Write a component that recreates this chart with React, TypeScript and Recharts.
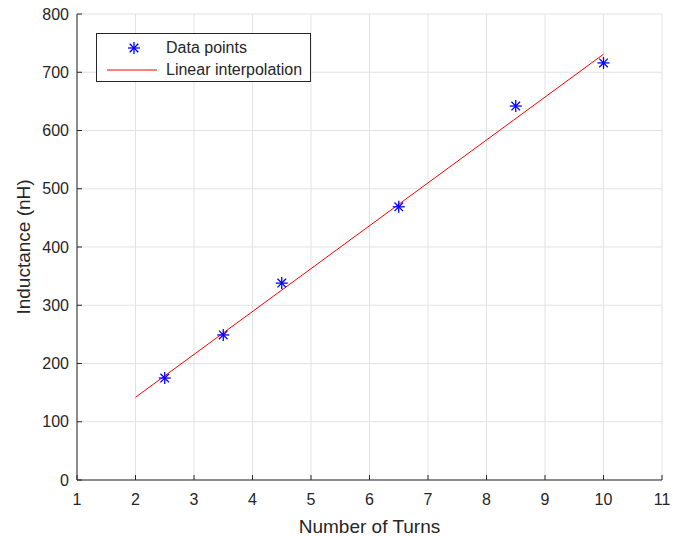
import { ComposedChart, Line, Scatter, XAxis, YAxis, CartesianGrid, Legend } from 'recharts'

const turns = [2.5, 3.5, 4.5, 6.5, 8.5, 10]
const inductance = [175, 249, 338, 469, 642, 716]
const fitTurns = [2, 10]
const fitInductance = [142, 731]
const xTicks = [1, 2, 3, 4, 5, 6, 7, 8, 9, 10, 11]
const yTicks = [0, 100, 200, 300, 400, 500, 600, 700, 800]

const points = turns.map((x, i) => ({ x, y: inductance[i] }))
const fit = fitTurns.map((x, i) => ({ x, y: fitInductance[i] }))

const ink = '#262626'
const font = '"Liberation Sans", Arial, sans-serif'

function Star({ cx, cy }: { cx?: number; cy?: number }) {
  if (cx == null || cy == null) return null
  const r = 6
  const d = 4.3
  return (
    <g stroke="#0000ff" strokeWidth={1.3}>
      <line x1={cx - r} y1={cy} x2={cx + r} y2={cy} />
      <line x1={cx} y1={cy - r} x2={cx} y2={cy + r} />
      <line x1={cx - d} y1={cy - d} x2={cx + d} y2={cy + d} />
      <line x1={cx - d} y1={cy + d} x2={cx + d} y2={cy - d} />
    </g>
  )
}

function LegendBox() {
  return (
    <div
      style={{
        border: `1px solid ${ink}`,
        background: '#fff',
        width: 213,
        height: 47,
        fontFamily: font,
        fontSize: 16,
        color: ink,
        position: 'relative',
      }}
    >
      <svg width={60} height={47} style={{ position: 'absolute', left: 0, top: 0 }}>
        <Star cx={37} cy={14} />
        <line x1={10} y1={36} x2={64} y2={36} stroke="#ff0000" strokeWidth={1} />
      </svg>
      <div style={{ position: 'absolute', left: 69, top: 4, lineHeight: '20px' }}>Data points</div>
      <div style={{ position: 'absolute', left: 69, top: 26, lineHeight: '20px' }}>Linear interpolation</div>
    </div>
  )
}

export default function App() {
  return (
    <div style={{ position: 'absolute', left: 0, top: 0, background: '#fff' }}>
      <ComposedChart width={673} height={536} margin={{ top: 14, right: 11, left: 0, bottom: 0 }}>
        <CartesianGrid stroke="#e2e2e2" />
        <XAxis
          type="number"
          dataKey="x"
          domain={[1, 11]}
          ticks={xTicks}
          interval={0}
          height={56}
          stroke={ink}
          tickSize={-5}
          tickMargin={19}
          tick={{ fill: ink, fontSize: 16, fontFamily: font }}
          label={(p: any) => {
            const vb = p.viewBox
            return (
              <text x={vb.x + vb.width / 2} y={533} textAnchor="middle" fill={ink} fontSize={19} fontFamily={font}>
                Number of Turns
              </text>
            )
          }}
        />
        <YAxis
          type="number"
          dataKey="y"
          domain={[0, 800]}
          ticks={yTicks}
          interval={0}
          width={77}
          stroke={ink}
          tickSize={-5}
          tickMargin={13}
          tick={{ fill: ink, fontSize: 16, fontFamily: font }}
          label={(p: any) => {
            const vb = p.viewBox
            const cx = 30
            const cy = vb.y + vb.height / 2
            return (
              <text x={cx} y={cy} transform={`rotate(-90, ${cx}, ${cy})`} textAnchor="middle" fill={ink} fontSize={19} fontFamily={font}>
                Inductance (nH)
              </text>
            )
          }}
        />
        <Line data={fit} dataKey="y" stroke="#ff0000" strokeWidth={1} dot={false} isAnimationActive={false} />
        <Scatter data={points} dataKey="y" shape={<Star />} isAnimationActive={false} />
        <Legend
          verticalAlign="middle"
          align="center"
          layout="horizontal"
          content={() => <LegendBox />}
          wrapperStyle={{ left: 96, top: 33, width: 215, height: 49 }}
        />
      </ComposedChart>
    </div>
  )
}
